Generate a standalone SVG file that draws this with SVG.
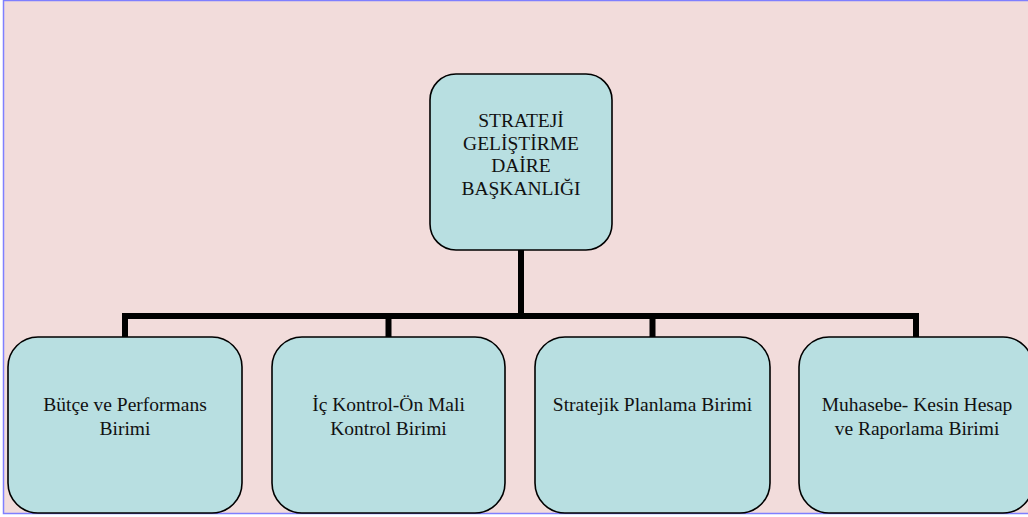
<svg xmlns="http://www.w3.org/2000/svg" width="1028" height="517" viewBox="0 0 1028 517">
<style>
.node rect{fill:#b8dfe1;stroke:#000;stroke-width:1.6}
.node text{fill:#111;text-anchor:middle}
.top text{font-size:19.5px}
.bot text{font-size:19.5px}
.conn path{fill:none;stroke:#000;stroke-width:6}
</style>
<rect x="0" y="0" width="1028" height="517" fill="#ffffff"/>
<rect x="3.5" y="0.5" width="1030" height="513" fill="#f2dcdb" stroke="#7f7fff" stroke-width="1.5"/>
<g id="connectors" class="conn">
<path d="M521 250 V316"/>
<path d="M125 337 V316 H916 V337"/>
<path d="M388.5 316 V337"/>
<path d="M652.5 316 V337"/>
</g>
<g font-family="Liberation Serif, DejaVu Serif, serif">
<g id="n0" class="node top">
<rect x="430" y="74" width="182" height="176" rx="26" ry="26"/>
<text x="521" y="127">STRATEJİ</text>
<text x="521" y="149.5">GELİŞTİRME</text>
<text x="521" y="172">DAİRE</text>
<text x="521" y="194.5">BAŞKANLIĞI</text>
</g>
<g id="n1" class="node bot">
<rect x="8" y="337" width="234" height="176" rx="30" ry="30"/>
<text x="125" y="411">Bütçe ve Performans</text>
<text x="125" y="435">Birimi</text>
</g>
<g id="n2" class="node bot">
<rect x="272" y="337" width="233" height="176" rx="30" ry="30"/>
<text x="388.5" y="411">İç Kontrol-Ön Mali</text>
<text x="388.5" y="435">Kontrol Birimi</text>
</g>
<g id="n3" class="node bot">
<rect x="535" y="337" width="235" height="176" rx="30" ry="30"/>
<text x="652.5" y="411">Stratejik Planlama Birimi</text>
</g>
<g id="n4" class="node bot">
<rect x="799" y="337" width="234" height="176" rx="30" ry="30"/>
<text x="917" y="411">Muhasebe- Kesin Hesap</text>
<text x="917" y="435">ve Raporlama Birimi</text>
</g>
</g>
</svg>
